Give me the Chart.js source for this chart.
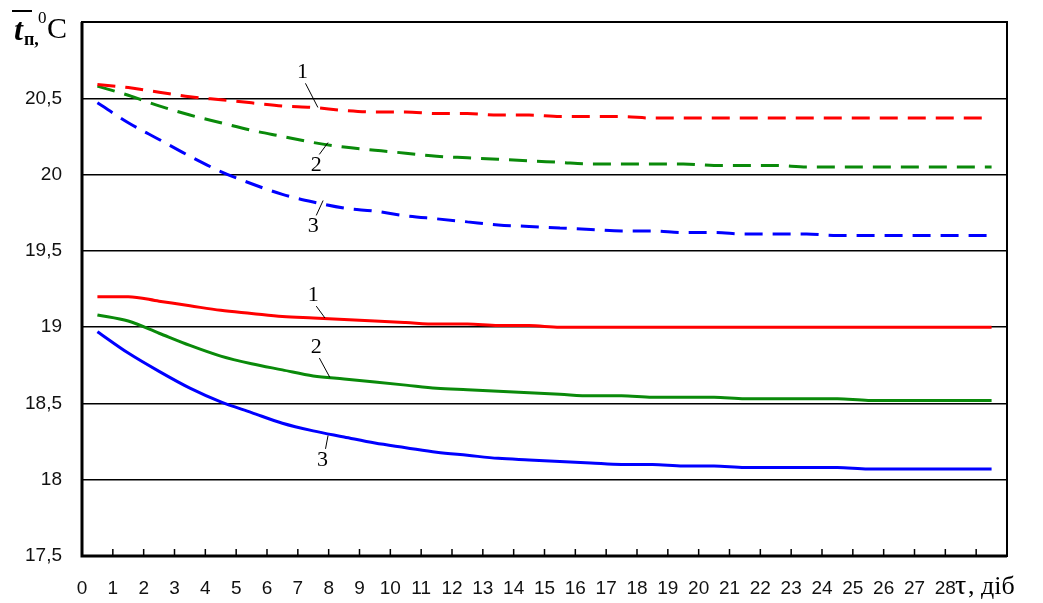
<!DOCTYPE html>
<html>
<head>
<meta charset="utf-8">
<script src="https://cdn.jsdelivr.net/npm/chart.js@4"></script>
<style>
  html, body { margin: 0; padding: 0; background: #fff; }
  #wrap { width: 1043px; height: 603px; }
</style>
</head>
<body>
<div id="wrap"><canvas id="myChart" width="1043" height="603"></canvas></div>
<script>
// доба (середина кожного дня)
const tau = [0.5, 1.5, 2.5, 3.5, 4.5, 5.5, 6.5, 7.5, 8.5, 9.5, 10.5, 11.5, 12.5, 13.5, 14.5,
             15.5, 16.5, 17.5, 18.5, 19.5, 20.5, 21.5, 22.5, 23.5, 24.5, 25.5, 26.5, 27.5, 28.5, 29.5];

// штрихові криві
const dash1 = [20.59, 20.57, 20.54, 20.51, 20.49, 20.47, 20.45, 20.44, 20.42, 20.41, 20.41, 20.40, 20.40, 20.39, 20.39,
               20.38, 20.38, 20.38, 20.37, 20.37, 20.37, 20.37, 20.37, 20.37, 20.37, 20.37, 20.37, 20.37, 20.37, 20.37];
const dash2 = [20.58, 20.52, 20.45, 20.39, 20.34, 20.29, 20.25, 20.21, 20.18, 20.16, 20.14, 20.12, 20.11, 20.10, 20.09,
               20.08, 20.07, 20.07, 20.07, 20.07, 20.06, 20.06, 20.06, 20.05, 20.05, 20.05, 20.05, 20.05, 20.05, 20.05];
const dash3 = [20.47, 20.34, 20.23, 20.12, 20.02, 19.94, 19.87, 19.82, 19.78, 19.76, 19.73, 19.71, 19.69, 19.67, 19.66,
               19.65, 19.64, 19.63, 19.63, 19.62, 19.62, 19.61, 19.61, 19.61, 19.60, 19.60, 19.60, 19.60, 19.60, 19.60];

// суцільні криві
const solid1 = [19.20, 19.20, 19.17, 19.14, 19.11, 19.09, 19.07, 19.06, 19.05, 19.04, 19.03, 19.02, 19.02, 19.01, 19.01,
                19.00, 19.00, 19.00, 19.00, 19.00, 19.00, 19.00, 19.00, 19.00, 19.00, 19.00, 19.00, 19.00, 19.00, 19.00];
const solid2 = [19.08, 19.04, 18.96, 18.88, 18.81, 18.76, 18.72, 18.68, 18.66, 18.64, 18.62, 18.60, 18.59, 18.58, 18.57,
                18.56, 18.55, 18.55, 18.54, 18.54, 18.54, 18.53, 18.53, 18.53, 18.53, 18.52, 18.52, 18.52, 18.52, 18.52];
const solid3 = [18.97, 18.83, 18.71, 18.60, 18.51, 18.44, 18.37, 18.32, 18.28, 18.24, 18.21, 18.18, 18.16, 18.14, 18.13,
                18.12, 18.11, 18.10, 18.10, 18.09, 18.09, 18.08, 18.08, 18.08, 18.08, 18.07, 18.07, 18.07, 18.07, 18.07];

// підписи кривих: [текст, tau підпису, t підпису, tau кінця лінії, t кінця лінії]
const curveLabels = [
  ['1', 7.15, 20.67, 7.65, 20.44],
  ['2', 7.6, 20.06, 7.98, 20.21],
  ['3', 7.5, 19.66, 7.82, 19.83],
  ['1', 7.5, 19.21, 7.88, 19.06],
  ['2', 7.6, 18.87, 8.04, 18.67],
  ['3', 7.8, 18.13, 7.98, 18.29]
];

const red = '#ff0000', green = '#0a8a0a', blue = '#0000ff';

function toPts(arr) {
  return tau.map((x, i) => ({ x: x, y: arr[i] }));
}

function ds(arr, color, dashed) {
  return {
    data: toPts(arr),
    borderColor: color,
    borderWidth: 3,
    borderDash: dashed ? [18, 10] : [],
    pointRadius: 0,
    fill: false,
    cubicInterpolationMode: 'monotone'
  };
}

const decor = {
  id: 'decor',
  afterDraw(chart) {
    const c = chart.ctx;
    const a = chart.chartArea;
    const xs = chart.scales.x, ys = chart.scales.y;
    c.save();
    // рамка
    c.strokeStyle = '#000';
    c.lineWidth = 2;
    c.strokeRect(a.left, a.top, a.right - a.left, a.bottom - a.top);
    c.lineWidth = 3;
    c.beginPath();
    c.moveTo(a.left, a.top);
    c.lineTo(a.left, a.bottom);
    c.lineTo(a.right, a.bottom);
    c.stroke();
    // риски на осі x
    c.lineWidth = 1.5;
    c.beginPath();
    for (let v = 1; v <= 29; v++) {
      const px = xs.getPixelForValue(v);
      c.moveTo(px, a.bottom);
      c.lineTo(px, a.bottom - 7);
    }
    c.stroke();
    // підписи кривих
    c.fillStyle = '#000';
    c.font = '22px "Liberation Serif", "DejaVu Serif", serif';
    c.textAlign = 'center';
    c.textBaseline = 'middle';
    c.lineWidth = 1;
    curveLabels.forEach(l => {
      const lx = xs.getPixelForValue(l[1]), ly = ys.getPixelForValue(l[2]);
      const ex = xs.getPixelForValue(l[3]), ey = ys.getPixelForValue(l[4]);
      c.fillText(l[0], lx, ly);
      const dir = ey > ly ? 1 : -1;
      c.beginPath();
      c.moveTo(lx + 3, ly + dir * 11);
      c.lineTo(ex, ey);
      c.stroke();
    });
    // назва осі x
    c.textAlign = 'left';
    c.textBaseline = 'alphabetic';
    c.font = '28px "Liberation Serif", serif';
    c.fillText('τ', 955, 594);
    c.font = '26px "Liberation Serif", serif';
    c.fillText(', діб', 968, 594);
    // назва осі y
    c.font = 'italic bold 32px "Liberation Serif", serif';
    c.fillText('t', 14, 40);
    c.lineWidth = 2;
    c.beginPath();
    c.moveTo(12, 11);
    c.lineTo(32, 11);
    c.stroke();
    c.font = 'bold 18px "Liberation Serif", serif';
    c.fillText('п,', 24, 45);
    c.font = '17px "Liberation Serif", serif';
    c.fillText('0', 38, 23);
    c.font = '30px "Liberation Serif", serif';
    c.fillText('C', 47, 38);
    c.restore();
  }
};

new Chart(document.getElementById('myChart'), {
  type: 'line',
  data: {
    datasets: [
      ds(dash1, red, true),
      ds(dash2, green, true),
      ds(dash3, blue, true),
      ds(solid1, red, false),
      ds(solid2, green, false),
      ds(solid3, blue, false)
    ]
  },
  options: {
    responsive: false,
    animation: false,
    layout: { padding: { top: 22, right: 36, left: 0, bottom: 0 } },
    plugins: { legend: { display: false }, tooltip: { enabled: false } },
    scales: {
      x: {
        type: 'linear',
        min: 0,
        max: 30,
        afterFit(s) { s.height = 47; },
        border: { display: false },
        grid: { display: false },
        ticks: {
          stepSize: 1,
          autoSkip: false,
          maxRotation: 0,
          padding: 13,
          color: '#111',
          font: { family: 'Arial, "Liberation Sans", sans-serif', size: 19 },
          callback: v => (v <= 28 ? String(v) : '')
        }
      },
      y: {
        min: 17.5,
        max: 21,
        afterFit(s) { s.width = 82; },
        border: { display: false },
        grid: {
          drawTicks: true,
          tickLength: 10,
          tickColor: 'rgba(0,0,0,0)',
          lineWidth: 1.5,
          color: ctx => (ctx.tick && ctx.tick.value > 17.5 && ctx.tick.value < 21 ? '#000' : 'rgba(0,0,0,0)')
        },
        ticks: {
          stepSize: 0.5,
          padding: 10,
          color: '#111',
          font: { family: 'Arial, "Liberation Sans", sans-serif', size: 19 },
          callback: v => (v < 21 ? String(v).replace('.', ',') : '')
        }
      }
    }
  },
  plugins: [decor]
});
</script>
</body>
</html>
